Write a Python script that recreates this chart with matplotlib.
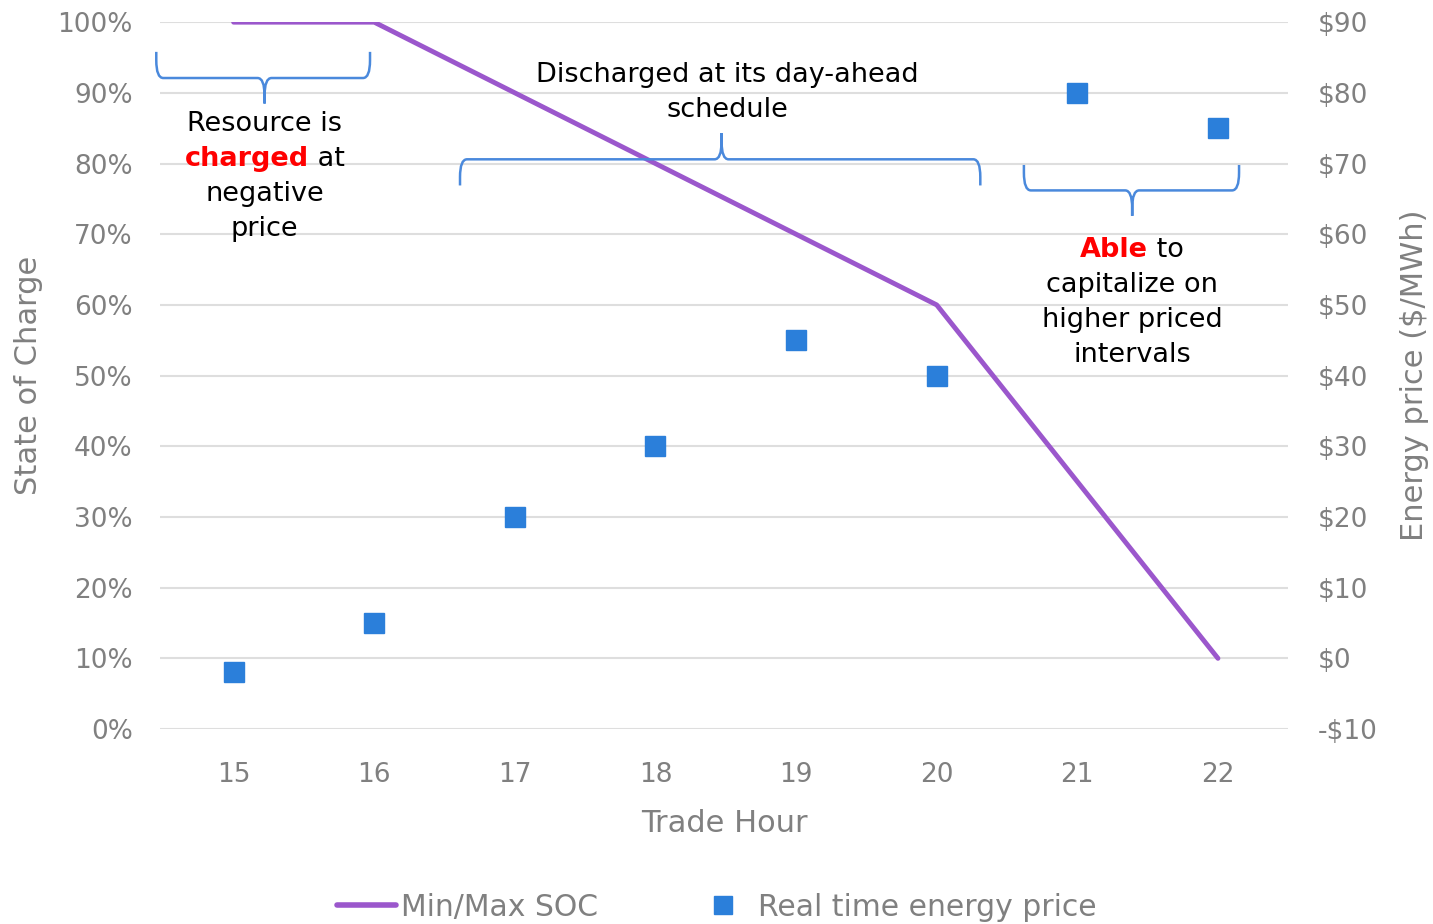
import matplotlib
matplotlib.use('Agg')
import matplotlib.pyplot as plt
from matplotlib.path import Path
from matplotlib.patches import PathPatch
from matplotlib.ticker import FuncFormatter

# data
hours = [15, 16, 17, 18, 19, 20, 21, 22]
soc = [100, 100, 90, 80, 70, 60, 35, 10]          # Min/Max SOC (%)
price = [-2, 5, 20, 30, 45, 40, 80, 75]           # Real time energy price ($/MWh)

soc_ticks = list(range(0, 101, 10))
price_ticks = list(range(-10, 91, 10))

purple = '#9B57CC'
blue = '#2B7FDA'
brace_blue = '#4A89DC'
grey = '#808080'
fs = 19
lfs = 22

plt.rcParams['font.family'] = ['DejaVu Sans']

fig = plt.figure(figsize=(14.33, 9.24), dpi=100)
ax = fig.add_axes([0.112, 0.211, 0.787, 0.765])
ax2 = ax.twinx()

# SOC line on the left axis
ax.plot(hours, soc, color=purple, lw=3.5, solid_capstyle='round', zorder=3)
# price markers on the right axis
ax2.plot(hours, price, linestyle='none', marker='s', markersize=14, color=blue, zorder=3)

ax.set_xlim(14.48, 22.5)
ax.set_ylim(0, 100)
ax2.set_ylim(-10, 90)
ax.set_xticks(hours)
ax.set_yticks(soc_ticks)
ax2.set_yticks(price_ticks)
ax.yaxis.set_major_formatter(FuncFormatter(lambda v, p: f'{v:.0f}%'))
ax2.yaxis.set_major_formatter(FuncFormatter(lambda v, p: f'${v:.0f}' if v >= 0 else f'-${-v:.0f}'))

ax.grid(axis='y', color='#dedede', lw=1.5)
ax.set_axisbelow(True)
for a in (ax, ax2):
    for s in a.spines.values():
        s.set_visible(False)
ax.tick_params(axis='both', length=0, labelsize=fs, labelcolor=grey)
ax.tick_params(axis='y', pad=20)
ax.tick_params(axis='x', pad=24)
ax2.tick_params(axis='y', length=0, labelsize=fs, labelcolor=grey, pad=21)

ax.set_xlabel('Trade Hour', fontsize=lfs, color=grey, labelpad=15)
ax.set_ylabel('State of Charge', fontsize=lfs, color=grey, labelpad=10)
ax2.set_ylabel('Energy price ($/MWh)', fontsize=lfs, color=grey, labelpad=16)


def brace(x0, x1, xm, yend, yline, ytip, rx=0.05, ry=2.5):
    # curly bracket in data coords of ax
    d = 1 if ytip > yline else -1
    e = 1 if yend > yline else -1
    verts = [(x0, yend), (x0, yline + e * ry), (x0, yline), (x0 + rx, yline),
             (xm - rx, yline), (xm, yline), (xm, yline + d * ry), (xm, ytip),
             (xm, yline + d * ry), (xm, yline), (xm + rx, yline),
             (x1 - rx, yline), (x1, yline), (x1, yline + e * ry), (x1, yend)]
    codes = [Path.MOVETO, Path.LINETO, Path.CURVE3, Path.CURVE3,
             Path.LINETO, Path.CURVE3, Path.CURVE3, Path.LINETO,
             Path.LINETO, Path.CURVE3, Path.CURVE3,
             Path.LINETO, Path.CURVE3, Path.CURVE3, Path.LINETO]
    ax.add_patch(PathPatch(Path(verts, codes), fill=False, ec=brace_blue, lw=1.8,
                           zorder=4, clip_on=False))


brace(14.45, 15.97, 15.22, 95.8, 92.1, 88.5)
brace(16.61, 20.31, 18.47, 76.9, 80.6, 84.3)
brace(20.62, 22.15, 21.39, 79.8, 76.2, 72.6)

fig.canvas.draw()
renderer = fig.canvas.get_renderer()
tfs = 19.5


def rich_line(x, y, parts):
    # one centred line made of coloured pieces
    widths = []
    for s, c, w in parts:
        t = ax.text(0, 0, s, fontsize=tfs, fontweight=w)
        widths.append(t.get_window_extent(renderer).width)
        t.remove()
    off = -sum(widths) / 2
    for (s, c, w), wd in zip(parts, widths):
        ax.annotate(s, xy=(x, y), xytext=(off, 0), textcoords='offset pixels',
                    ha='left', va='center', fontsize=tfs, fontweight=w, color=c,
                    zorder=5, annotation_clip=False)
        off += wd


k = ('black', 'normal')
r = ('red', 'bold')
rich_line(15.22, 85.6, [('Resource is',) + k])
rich_line(15.22, 80.6, [('charged',) + r, (' at',) + k])
rich_line(15.22, 75.7, [('negative',) + k])
rich_line(15.22, 70.7, [('price',) + k])

rich_line(18.51, 92.5, [('Discharged at its day-ahead',) + k])
rich_line(18.51, 87.6, [('schedule',) + k])

rich_line(21.39, 67.7, [('Able',) + r, (' to',) + k])
rich_line(21.39, 62.8, [('capitalize on',) + k])
rich_line(21.39, 57.8, [('higher priced',) + k])
rich_line(21.39, 52.9, [('intervals',) + k])

h1, = ax.plot([], [], color=purple, lw=4, solid_capstyle='round')
h2, = ax.plot([], [], linestyle='none', marker='s', markersize=13, color=blue)
leg = fig.legend([h1, h2], ['Min/Max SOC', 'Real time energy price'], loc='center',
                 bbox_to_anchor=(0.5, 0.018), ncol=2, frameon=False, fontsize=21.5,
                 handlelength=2.0, handletextpad=0.15, columnspacing=3.2)
for t in leg.get_texts():
    t.set_color(grey)

fig.savefig('out.png', dpi=100)
